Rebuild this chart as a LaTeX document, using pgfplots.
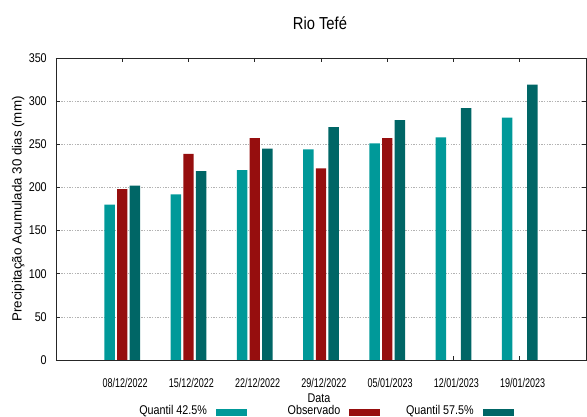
\documentclass[border=0pt]{standalone}
\usepackage{fontspec}
\setmainfont{Liberation Sans}[FakeStretch=0.85]
\newfontfamily\plainfont{Liberation Sans}
\newfontfamily\datefont{Liberation Sans}[FakeStretch=0.71]
\usepackage{pgfplots}
\pgfplotsset{compat=1.18}

\definecolor{qlow}{RGB}{0,153,153}
\definecolor{obs}{RGB}{150,14,14}
\definecolor{qhigh}{RGB}{0,102,102}

% legend text: right aligned, followed by the gap before the swatch
\newcommand{\legtext}[1]{\makebox[75.75pt][l]{\makebox[69pt][r]{#1}}}

\begin{document}
\begin{tikzpicture}
\begin{axis}[
  scale only axis,
  width=397.5pt, height=226.5pt,
  xmin=-1, xmax=7,
  ymin=0, ymax=350,
  xtick={0,...,6},
  xticklabels={08/12/2022,15/12/2022,22/12/2022,29/12/2022,05/01/2023,12/01/2023,19/01/2023},
  ytick={0,50,...,350},
  tick align=inside,
  major tick length=3pt,
  xtick pos=both, ytick pos=both,
  tick style={black!85, line width=0.5pt},
  axis line style={black!85, line width=0.6pt},
  ymajorgrids,
  grid style={gray!60, dash pattern=on 1pt off 1pt, line width=0.5pt},
  /pgf/number format/assume math mode=true,
  yticklabel style={font=\fontsize{9.5}{11}\selectfont, anchor=east, inner sep=0pt, xshift=-6.75pt},
  xticklabel style={font=\fontsize{9.5}{11}\datefont, anchor=base, inner sep=0pt, yshift=-21pt, xshift=2.25pt},
  every axis title shift=0pt,
  title={Rio Tefé},
  title style={font=\fontsize{13}{15}\selectfont, at={(axis description cs:0.498,1.096)}, anchor=base, inner sep=0pt},
  xlabel={Data},
  xlabel style={font=\fontsize{9.5}{11}\selectfont, at={(axis description cs:0.496,-0.1424)}, anchor=base, inner sep=0pt},
  ylabel={Precipitação Acumulada 30 dias (mm)},
  ylabel style={font=\fontsize{10}{12}\plainfont, at={(axis description cs:-0.0647,0.5)}, anchor=base, inner sep=0pt},
  legend columns=6,
  legend style={draw=none, fill=none, at={(axis description cs:0.4887,-0.169)}, anchor=center,
    column sep=0pt, row sep=0pt, inner sep=0pt,
    nodes={inner sep=0pt, font=\fontsize{9.5}{11}\selectfont}},
]

\addlegendimage{legend image code/.code={}}
\addlegendentry{\legtext{Quantil 42.5\%}}
\addplot[ybar, bar width=0.158, bar shift=-0.189, fill=qlow, draw=none,
  legend image code/.code={\fill[qlow] (0pt,-3.9pt) rectangle (23.25pt,1.3pt);}]
  coordinates {(0,180) (1,192) (2,220) (3,244) (4,251) (5,258) (6,281)};
\addlegendentry{}

\addlegendimage{legend image code/.code={}}
\addlegendentry{\legtext{Observado}}
\addplot[ybar, bar width=0.158, bar shift=0, fill=obs, draw=none,
  legend image code/.code={\fill[obs] (0pt,-3.9pt) rectangle (23.25pt,1.3pt);}]
  coordinates {(0,198) (1,239) (2,257) (3,222) (4,257)};
\addlegendentry{}

\addlegendimage{legend image code/.code={}}
\addlegendentry{\legtext{Quantil 57.5\%}}
\addplot[ybar, bar width=0.158, bar shift=0.189, fill=qhigh, draw=none,
  legend image code/.code={\fill[qhigh] (0pt,-3.9pt) rectangle (23.25pt,1.3pt);}]
  coordinates {(0,202) (1,219) (2,245) (3,270) (4,278) (5,292) (6,319)};
\addlegendentry{}

\end{axis}
\path[use as bounding box] (-42pt,-42.75pt) rectangle (398.25pt,270pt);
\end{tikzpicture}
\end{document}
